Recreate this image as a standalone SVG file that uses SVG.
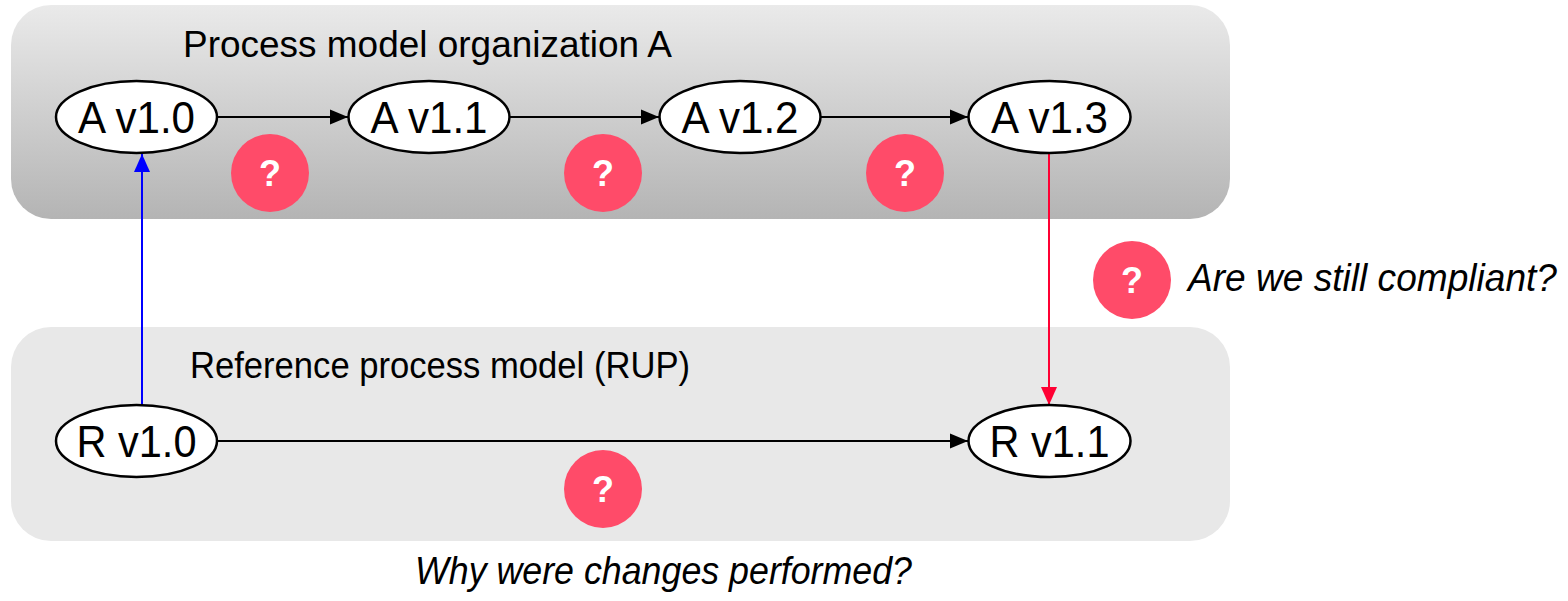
<svg xmlns="http://www.w3.org/2000/svg" width="1568" height="601" viewBox="0 0 1568 601">
<style>
.panel-title{font-family:"Liberation Sans",Arial,sans-serif;font-size:37px;fill:#000}
.node ellipse{fill:#fff;stroke:#000;stroke-width:2.5}
.node text{font-family:"Liberation Sans",Arial,sans-serif;font-size:44px;fill:#000;text-anchor:middle}
.q circle{fill:#ff4b69}
.q text{font-family:"Liberation Sans",Arial,sans-serif;font-size:36px;font-weight:bold;fill:#fff;text-anchor:middle}
.note{font-family:"Liberation Sans",Arial,sans-serif;font-size:38px;font-style:italic;fill:#000}
.edge{fill:none;stroke-width:2}
</style>
<defs>
<linearGradient id="gTop" x1="0" y1="0" x2="0" y2="1">
<stop offset="0" stop-color="#eaeaea"/>
<stop offset="1" stop-color="#b4b4b4"/>
</linearGradient>
<marker id="ahBlack" markerUnits="userSpaceOnUse" markerWidth="18" markerHeight="18" viewBox="0 0 18 18" refX="18" refY="9" orient="auto"><path d="M0,1.5 L18,9 L0,16.5 Z" fill="#000"/></marker>
<marker id="ahBlue" markerUnits="userSpaceOnUse" markerWidth="18" markerHeight="18" viewBox="0 0 18 18" refX="18" refY="9" orient="auto"><path d="M0,1 L18,9 L0,17 Z" fill="#0000ff"/></marker>
<marker id="ahRed" markerUnits="userSpaceOnUse" markerWidth="18" markerHeight="18" viewBox="0 0 18 18" refX="18" refY="9" orient="auto"><path d="M0,1 L18,9 L0,17 Z" fill="#ff0033"/></marker>
</defs>
<rect width="1568" height="601" fill="#fff"/>
<g id="panel-org">
<rect x="11" y="5" width="1219" height="214" rx="40" fill="url(#gTop)"/>
<text class="panel-title" x="183" y="57" textLength="489" lengthAdjust="spacingAndGlyphs">Process model organization A</text>
</g>
<g id="panel-ref">
<rect x="11" y="327" width="1219" height="214" rx="40" fill="#e8e8e8"/>
<text class="panel-title" x="190" y="378" textLength="500" lengthAdjust="spacingAndGlyphs">Reference process model (RUP)</text>
</g>
<g id="connectors">
<line class="edge" stroke="#000" x1="217" y1="117" x2="348" y2="117" marker-end="url(#ahBlack)"/>
<line class="edge" stroke="#000" x1="510" y1="117" x2="659" y2="117" marker-end="url(#ahBlack)"/>
<line class="edge" stroke="#000" x1="821" y1="117" x2="968" y2="117" marker-end="url(#ahBlack)"/>
<line class="edge" stroke="#000" x1="217" y1="441" x2="968" y2="441" marker-end="url(#ahBlack)"/>
<line class="edge" stroke="#0000ff" x1="142" y1="405" x2="142" y2="154" marker-end="url(#ahBlue)"/>
<line class="edge" stroke="#ff0033" x1="1049" y1="153" x2="1049" y2="405" marker-end="url(#ahRed)"/>
</g>
<g id="node-a10" class="node"><ellipse cx="136.5" cy="117" rx="80.5" ry="36"/><text x="136.5" y="132.5" textLength="117" lengthAdjust="spacingAndGlyphs">A v1.0</text></g>
<g id="node-a11" class="node"><ellipse cx="429" cy="117" rx="80.5" ry="36"/><text x="429" y="132.5" textLength="117" lengthAdjust="spacingAndGlyphs">A v1.1</text></g>
<g id="node-a12" class="node"><ellipse cx="740" cy="117" rx="80.5" ry="36"/><text x="740" y="132.5" textLength="117" lengthAdjust="spacingAndGlyphs">A v1.2</text></g>
<g id="node-a13" class="node"><ellipse cx="1049.5" cy="117" rx="81" ry="36"/><text x="1049.5" y="132.5" textLength="117" lengthAdjust="spacingAndGlyphs">A v1.3</text></g>
<g id="node-r10" class="node"><ellipse cx="136.5" cy="441" rx="80.5" ry="36"/><text x="136.5" y="456.5" textLength="120" lengthAdjust="spacingAndGlyphs">R v1.0</text></g>
<g id="node-r11" class="node"><ellipse cx="1049.5" cy="441" rx="81" ry="36"/><text x="1049.5" y="456.5" textLength="120" lengthAdjust="spacingAndGlyphs">R v1.1</text></g>
<g id="q1" class="q"><circle cx="270" cy="173" r="39"/><text x="270" y="186">?</text></g>
<g id="q2" class="q"><circle cx="603" cy="173" r="39"/><text x="603" y="186">?</text></g>
<g id="q3" class="q"><circle cx="905" cy="173" r="39"/><text x="905" y="186">?</text></g>
<g id="q4" class="q"><circle cx="1132" cy="280" r="39"/><text x="1132" y="293">?</text></g>
<g id="q5" class="q"><circle cx="603" cy="489" r="39"/><text x="603" y="502">?</text></g>
<g id="note-compliant"><text class="note" x="1188" y="291" textLength="369" lengthAdjust="spacingAndGlyphs">Are we still compliant?</text></g>
<g id="note-why"><text class="note" x="415" y="584" textLength="497" lengthAdjust="spacingAndGlyphs">Why were changes performed?</text></g>
</svg>
